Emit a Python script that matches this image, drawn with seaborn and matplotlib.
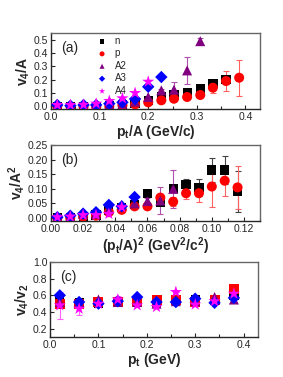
import matplotlib
matplotlib.use("Agg")
import matplotlib.pyplot as plt
import numpy as np
import pandas as pd
import seaborn as sns
from matplotlib.ticker import MultipleLocator

# panel (a): v4/A vs pt/A
xa = [0.013, 0.04, 0.067, 0.093, 0.12, 0.147, 0.173, 0.2, 0.227, 0.253, 0.28, 0.307, 0.333, 0.36, 0.387]
a_n = [0.0, 0.0, 0.0, 0.0, 0.005, 0.012, 0.025, 0.045, 0.075, 0.085, 0.1, 0.13, 0.17, 0.2]
a_n_err = [0, 0, 0, 0, 0, 0, 0, 0, 0.005, 0.005, 0.008, 0.01, 0.012, 0.03]
a_p = [0.0, 0.0, -0.005, -0.005, 0.0, 0.008, 0.015, 0.03, 0.045, 0.057, 0.07, 0.085, 0.14, 0.19, 0.215]
a_p_err = [0, 0, 0, 0, 0, 0, 0, 0, 0, 0, 0, 0, 0.04, 0.075, 0.135]
a_a2 = [0.005, 0.005, 0.008, 0.01, 0.015, 0.02, 0.035, 0.07, 0.12, 0.125, 0.27, 0.49]
a_a2_err = [0, 0, 0, 0, 0, 0, 0, 0, 0.01, 0.055, 0.1, 0.02]
a_a3 = [0.01, 0.005, 0.01, 0.01, 0.02, 0.03, 0.055, 0.147, 0.22]
a_a4 = [0.01, 0.01, 0.012, 0.02, 0.04, 0.06, 0.1, 0.185]

# panel (b): v4/A^2 vs (pt/A)^2
xb = [0.004, 0.012, 0.02, 0.028, 0.036, 0.044, 0.052, 0.06, 0.068, 0.076, 0.084, 0.092, 0.1, 0.108, 0.116]
b_n = [0.0, 0.0, 0.005, 0.01, 0.025, 0.035, 0.045, 0.085, 0.055, 0.1, 0.115, 0.105, 0.165, 0.165, 0.09]
b_n_err = [0, 0, 0, 0, 0, 0, 0, 0.005, 0.008, 0.01, 0.02, 0.03, 0.04, 0.047, 0.07]
b_p = [0.0, 0.0, 0.005, 0.008, 0.02, 0.028, 0.04, 0.04, 0.07, 0.056, 0.085, 0.085, 0.108, 0.128, 0.105]
b_p_err = [0, 0, 0, 0, 0, 0, 0, 0, 0.01, 0.015, 0.02, 0.03, 0.07, 0.053, 0.075]
b_a2 = [0.003, 0.005, 0.015, 0.015, 0.03, 0.045, 0.05, 0.058, 0.06, 0.1]
b_a2_err = [0, 0, 0, 0, 0, 0, 0, 0.01, 0.045, 0.065]
b_a3 = [0.003, 0.008, 0.015, 0.02, 0.045, 0.04, 0.072]
b_a4 = [0.003, 0.005, 0.01, 0.01, 0.014, 0.037]

# panel (c): v4/v2^2 vs pt
xc = [0.02, 0.06, 0.1, 0.14, 0.18, 0.22, 0.26, 0.3, 0.34, 0.38]
c_n = [0.52, 0.51, 0.5, 0.52, 0.52, 0.52, 0.55, 0.55, 0.55, 0.6]
c_p = [0.5, 0.5, 0.52, 0.52, 0.52, 0.54, 0.55, 0.52, 0.55, 0.68]
c_p_err = [0, 0, 0, 0, 0, 0, 0, 0, 0, 0.05]
c_a2 = [0.52, 0.52, 0.55, 0.52, 0.52, 0.5, 0.53, 0.53, 0.58, 0.55]
c_a3 = [0.6, 0.52, 0.5, 0.53, 0.58, 0.52, 0.52, 0.56, 0.51, 0.57]
c_a4 = [0.48, 0.44, 0.5, 0.55, 0.48, 0.46, 0.64, 0.49, 0.53, 0.62]
c_a4_err = [0.16, 0.07, 0, 0.04, 0, 0, 0, 0, 0, 0]

names = ['n', 'p', 'A2', 'A3', 'A4']
colors = {'n': 'black', 'p': '#ff0000', 'A2': '#800080', 'A3': '#0000ff', 'A4': '#ff00ff'}
markers = {'n': 's', 'p': 'o', 'A2': '^', 'A3': 'D', 'A4': '*'}
sizes = {'n': 44, 'p': 52, 'A2': 52, 'A3': 40, 'A4': 85}
err_colors = {'n': '#444444', 'p': '#ff6060', 'A2': '#b050b0', 'A3': '#4040ff', 'A4': '#ff60ff'}

sns.set_style('ticks')
plt.rcParams['font.family'] = ['Liberation Sans', 'DejaVu Sans']
plt.rcParams['mathtext.fontset'] = 'custom'
plt.rcParams['mathtext.rm'] = 'Liberation Sans:bold'
plt.rcParams['mathtext.it'] = 'Liberation Sans:bold'
plt.rcParams['mathtext.bf'] = 'Liberation Sans:bold'

fig = plt.figure(figsize=(2.83, 3.77), dpi=100)
ax_a = fig.add_axes([0.18, 0.711, 0.739, 0.201])
ax_b = fig.add_axes([0.18, 0.414, 0.739, 0.201])
ax_c = fig.add_axes([0.177, 0.106, 0.735, 0.199])


def draw(ax, x, series, errs, mk, legend=False):
    for name in names:
        y = series[name]
        xs = x[:len(y)]
        if name in errs:
            ax.errorbar(xs, y, yerr=errs[name], fmt='none', ecolor=err_colors[name],
                        elinewidth=0.8, capsize=2, capthick=0.8, zorder=2)
        df = pd.DataFrame({'x': xs, 'y': y, 's': name})
        sns.scatterplot(data=df, x='x', y='y', ax=ax, color=colors[name],
                        marker=mk[name], s=sizes[name], edgecolor='none',
                        label=name if legend else None, zorder=3)


draw(ax_a, xa, {'n': a_n, 'p': a_p, 'A2': a_a2, 'A3': a_a3, 'A4': a_a4},
     {'n': a_n_err, 'p': a_p_err, 'A2': a_a2_err}, markers, legend=True)
draw(ax_b, xb, {'n': b_n, 'p': b_p, 'A2': b_a2, 'A3': b_a3, 'A4': b_a4},
     {'n': b_n_err, 'p': b_p_err, 'A2': b_a2_err}, markers)
draw(ax_c, xc, {'n': c_n, 'p': c_p, 'A2': c_a2, 'A3': c_a3, 'A4': c_a4},
     {'p': c_p_err, 'A4': c_a4_err}, dict(markers, p='s'))

leg = ax_a.legend(loc='upper left', bbox_to_anchor=(0.17, 1.04), frameon=False,
                  fontsize=7, handletextpad=0.3, labelspacing=0.25, markerscale=0.5,
                  borderaxespad=0.2)

ax_a.set_xlim(0, 0.43)
ax_a.set_ylim(-0.02, 0.55)
ax_a.xaxis.set_major_locator(MultipleLocator(0.1))
ax_a.xaxis.set_minor_locator(MultipleLocator(0.05))
ax_a.yaxis.set_major_locator(MultipleLocator(0.1))
ax_a.set_xlabel('p$_t$/A (GeV/c)', fontsize=10, fontweight='bold', labelpad=1)
ax_a.set_ylabel('v$_4$/A', fontsize=10, fontweight='bold', labelpad=1)

ax_b.set_xlim(0, 0.13)
ax_b.set_ylim(-0.01, 0.25)
ax_b.xaxis.set_major_locator(MultipleLocator(0.02))
ax_b.xaxis.set_minor_locator(MultipleLocator(0.01))
ax_b.yaxis.set_major_locator(MultipleLocator(0.05))
ax_b.set_xlabel('(p$_t$/A)$^2$ (GeV$^2$/c$^2$)', fontsize=10, fontweight='bold', labelpad=1)
ax_b.set_ylabel('v$_4$/A$^2$', fontsize=10, fontweight='bold', labelpad=1)

ax_c.set_xlim(0, 0.43)
ax_c.set_ylim(0.1, 1.0)
ax_c.xaxis.set_major_locator(MultipleLocator(0.1))
ax_c.xaxis.set_minor_locator(MultipleLocator(0.05))
ax_c.yaxis.set_major_locator(MultipleLocator(0.2))
ax_c.set_xlabel('p$_t$ (GeV)', fontsize=10, fontweight='bold', labelpad=1)
ax_c.set_ylabel('v$_4$/v$_2$', fontsize=10, fontweight='bold', labelpad=1)

for ax, tag in [(ax_a, '(a)'), (ax_b, '(b)'), (ax_c, '(c)')]:
    ax.text(0.05, 0.8, tag, transform=ax.transAxes, fontsize=10, va='center')
    ax.tick_params(which='both', direction='in', labelsize=7.5, pad=2)
    ax.tick_params(which='major', length=3, width=0.8)
    ax.tick_params(which='minor', length=2, width=0.8)
    for side in ['top', 'right']:
        ax.spines[side].set_color('#666666')
    for spine in ax.spines.values():
        spine.set_linewidth(1.0)

fig.savefig('out.png', dpi=100)
